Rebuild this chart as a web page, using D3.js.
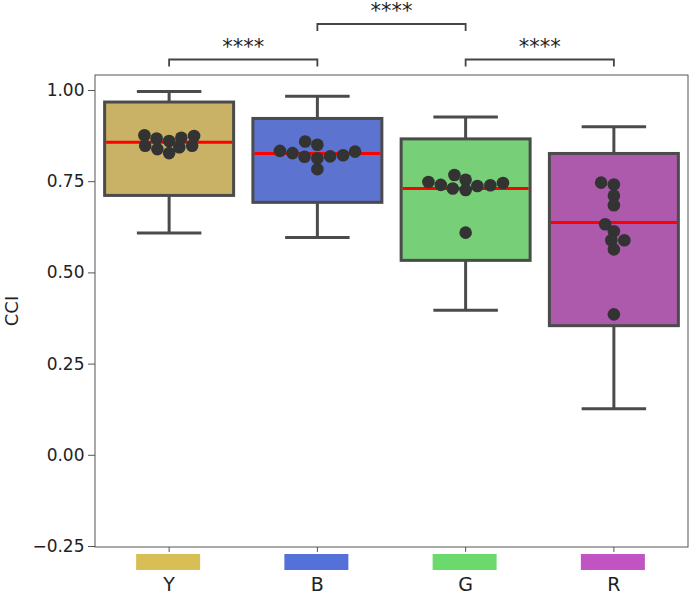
<!DOCTYPE html>
<html>
<head>
<meta charset="utf-8">
<script src="https://cdn.jsdelivr.net/npm/d3@7"></script>
<style>
  html, body { margin: 0; padding: 0; background: #fff; }
  svg { display: block; }
  text { font-family: "DejaVu Sans", sans-serif; }
</style>
</head>
<body>
<svg id="chart" width="693" height="594"></svg>
<script>
// ---- data ----
const categories = ["Y", "B", "G", "R"];
const boxFill = ["#c9b265", "#5c73cf", "#77cf77", "#ad5aad"];
const swatchColor = ["#d9be55", "#5470d9", "#6cd96c", "#c253c2"];
// box statistics: [whiskerLow, q1, median, q3, whiskerHigh]
const statsY = [0.608, 0.711, 0.857, 0.967, 0.996];
const statsB = [0.596, 0.692, 0.826, 0.922, 0.983];
const statsG = [0.396, 0.533, 0.730, 0.866, 0.926];
const statsR = [0.126, 0.354, 0.637, 0.826, 0.899];
// individual observations
const pointsY = [0.876, 0.847, 0.867, 0.838, 0.860, 0.827, 0.847, 0.869, 0.874, 0.843];
const pointsB = [0.833, 0.827, 0.817, 0.850, 0.813, 0.783, 0.859, 0.818, 0.821, 0.831];
const pointsG = [0.745, 0.739, 0.730, 0.754, 0.726, 0.767, 0.737, 0.740, 0.748, 0.609];
const pointsR = [0.746, 0.741, 0.710, 0.684, 0.632, 0.613, 0.588, 0.588, 0.563, 0.385];
const yTicks = [-0.25, 0.00, 0.25, 0.50, 0.75, 1.00];
// significance comparisons
const compFrom = ["Y", "B", "G"];
const compTo = ["B", "G", "R"];
const compLevel = [0, 1, 0];
const compLabel = ["****", "****", "****"];

const stats = [statsY, statsB, statsG, statsR];
const points = [pointsY, pointsB, pointsG, pointsR];

// ---- layout ----
const FONT = "DejaVu Sans, sans-serif";
const svg = d3.select("#chart");
const L = 95, R = 688, T = 75, B = 547;

const x = d3.scaleBand().domain(categories).range([L, R]).padding(0);
const y = d3.scaleLinear().domain([-0.2527, 1.0411]).range([B, T]);
// the swarm was laid out on a taller axis before the figure was finalised
const ySwarm = d3.scaleLinear().domain(y.domain()).range([0, -(B - T) / 0.75]);

const boxW = x.bandwidth() * 0.87;
const capW = boxW * 0.5;
const edge = "#4b4b4b";
const ptR = 6.3;
const swarmR = 6.2;

// frame
svg.append("rect").attr("x", L).attr("y", T).attr("width", R - L).attr("height", B - T)
  .attr("fill", "none").attr("stroke", "#555").attr("stroke-width", 1);

// y axis
const fmt = d3.format(".2f");
const yAxis = svg.append("g").attr("transform", `translate(${L},0)`)
  .call(d3.axisLeft(y).tickValues(yTicks).tickSize(7).tickPadding(3.5));
yAxis.attr("font-family", FONT);
yAxis.select(".domain").remove();
yAxis.selectAll(".tick line").attr("stroke", "#555");
yAxis.selectAll(".tick text").attr("font-size", 17).attr("fill", "#222").attr("font-family", FONT)
  .text(d => d < 0 ? "\u2212" + fmt(-d) : fmt(d));

// x axis ticks
const xAxis = svg.append("g").attr("transform", `translate(0,${B})`)
  .call(d3.axisBottom(x).tickSize(5).tickFormat(""));
xAxis.select(".domain").remove();
xAxis.selectAll(".tick line").attr("stroke", "#555");

// x labels
svg.append("g").selectAll("text").data(categories).join("text")
  .attr("x", d => x(d) + x.bandwidth() / 2).attr("y", 591)
  .attr("text-anchor", "middle").attr("font-size", 19).attr("fill", "#222")
  .attr("font-family", FONT).text(d => d);

// swatches
svg.append("g").selectAll("rect").data(categories).join("rect")
  .attr("x", d => x(d) + x.bandwidth() / 2 - 33)
  .attr("y", B + 7)
  .attr("width", 64).attr("height", 16)
  .attr("fill", (d, i) => swatchColor[i]);

// y label
svg.append("text").attr("transform", `translate(11,${(T + B) / 2}) rotate(-90)`)
  .attr("text-anchor", "middle").attr("dominant-baseline", "central")
  .attr("font-size", 18).attr("fill", "#222").attr("font-family", FONT).text("CCI");

// boxes
categories.forEach((c, i) => {
  const s = stats[i];
  const cx = x(c) + x.bandwidth() / 2;
  const g = svg.append("g");
  g.append("line").attr("x1", cx).attr("x2", cx).attr("y1", y(s[3])).attr("y2", y(s[4]))
    .attr("stroke", edge).attr("stroke-width", 3);
  g.append("line").attr("x1", cx).attr("x2", cx).attr("y1", y(s[1])).attr("y2", y(s[0]))
    .attr("stroke", edge).attr("stroke-width", 3);
  g.append("line").attr("x1", cx - capW / 2).attr("x2", cx + capW / 2).attr("y1", y(s[4])).attr("y2", y(s[4]))
    .attr("stroke", edge).attr("stroke-width", 3);
  g.append("line").attr("x1", cx - capW / 2).attr("x2", cx + capW / 2).attr("y1", y(s[0])).attr("y2", y(s[0]))
    .attr("stroke", edge).attr("stroke-width", 3);
  g.append("rect").attr("x", cx - boxW / 2).attr("y", y(s[3]))
    .attr("width", boxW).attr("height", y(s[1]) - y(s[3]))
    .attr("fill", boxFill[i]).attr("stroke", edge).attr("stroke-width", 3);
  g.append("line").attr("x1", cx - boxW / 2 + 1.5).attr("x2", cx + boxW / 2 - 1.5)
    .attr("y1", y(s[2])).attr("y2", y(s[2]))
    .attr("stroke", "#ff0000").attr("stroke-width", 3);
});

// beeswarm (seaborn-like), laid out in ySwarm space
function beeswarm(values, cx, r) {
  const pts = values.map(v => ({ v, sy: ySwarm(v) }));
  const order = pts.slice().sort((a, b) => b.sy - a.sy);
  const placed = [];
  order.forEach((p, k) => {
    if (k === 0) { p.px = cx; placed.push(p); return; }
    const nb = placed.filter(q => Math.abs(q.sy - p.sy) < 2 * r);
    const cands = [cx];
    nb.forEach(q => {
      const dy = p.sy - q.sy;
      const dx = Math.sqrt(Math.max(4 * r * r - dy * dy, 0)) * 1.05;
      cands.push(q.px - dx, q.px + dx);
    });
    cands.sort((a, b) => Math.abs(a - cx) - Math.abs(b - cx));
    p.px = cands[cands.length - 1];
    for (const c of cands) {
      const ok = nb.every(q => (c - q.px) ** 2 + (p.sy - q.sy) ** 2 >= (2 * r) ** 2 - 1e-6);
      if (ok) { p.px = c; break; }
    }
    placed.push(p);
  });
  return pts;
}

categories.forEach((c, i) => {
  const cx = x(c) + x.bandwidth() / 2;
  const pts = beeswarm(points[i], cx, swarmR);
  svg.append("g").selectAll("circle").data(pts).join("circle")
    .attr("cx", d => d.px).attr("cy", d => y(d.v)).attr("r", ptR)
    .attr("fill", "#333333");
});

// significance brackets
const lvlY = [59.5, 24];
compFrom.forEach((f, k) => {
  const x1 = x(f) + x.bandwidth() / 2;
  const x2 = x(compTo[k]) + x.bandwidth() / 2;
  const yy = lvlY[compLevel[k]];
  svg.append("path")
    .attr("d", `M${x1},${yy + 7}V${yy}H${x2}V${yy + 7}`)
    .attr("fill", "none").attr("stroke", "#444").attr("stroke-width", 1.8);
  svg.append("text").attr("x", (x1 + x2) / 2).attr("y", yy - 6)
    .attr("text-anchor", "middle").attr("font-size", 21).attr("fill", "#222")
    .attr("font-family", FONT).text(compLabel[k]);
});
</script>
</body>
</html>
